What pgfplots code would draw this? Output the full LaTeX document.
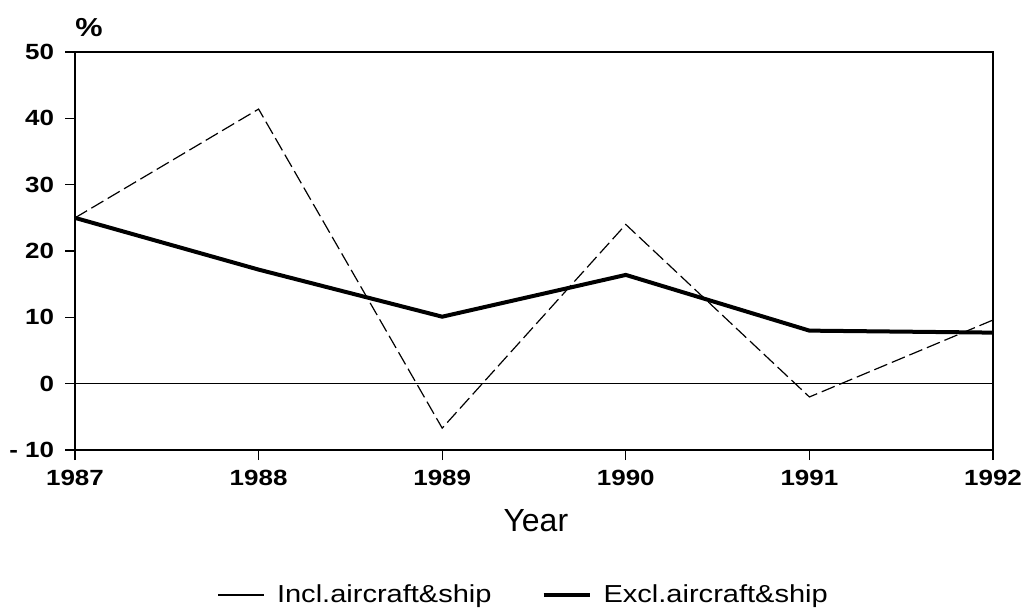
\documentclass[border=0pt]{standalone}
\usepackage{fontspec}
\setmainfont{Liberation Sans}
\newfontfamily\widefont[FakeStretch=1.18]{Liberation Sans}
\usepackage{pgfplots}
\pgfplotsset{compat=1.18}

\begin{document}
\begin{tikzpicture}
  \begin{axis}[
    scale only axis,
    width=459pt, height=199pt,
    xmin=1987, xmax=1992,
    ymin=-10, ymax=50,
    xtick={1987,1988,1989,1990,1991,1992},
    xticklabels={1987,1988,1989,1990,1991,1992},
    ytick={-10,0,10,20,30,40,50},
    yticklabels={- 10,0,10,20,30,40,50},
    tick align=outside,
    xtick pos=bottom, ytick pos=left,
    major tick length=5pt,
    tick style={black, line width=0.6pt},
    axis line style={black, line width=0.6pt},
    ticklabel style={font=\widefont\fontsize{11}{13}\selectfont\bfseries},
    xticklabel style={yshift=-1.3pt},
    yticklabel style={xshift=-2pt},
    legend style={at={(0.49,-0.364)}, anchor=center, draw=none, legend columns=2,
      font=\widefont\fontsize{12.3}{14}\selectfont,
      /tikz/every odd column/.append style={column sep=4pt},
      /tikz/every even column/.append style={column sep=23pt}},
    legend cell align=left,
    legend image code/.code={\draw[#1, solid] (0pt,0pt) -- (23pt,0pt);},
    clip=false,
  ]
    % zero line
    \addplot[black, line width=0.6pt, forget plot] coordinates {(1987,0) (1992,0)};

    % incl. aircraft & ship
    \addplot[black, line width=0.6pt, dash pattern=on 7pt off 2.5pt] coordinates {
      (1987,25) (1988,41.4) (1989,-6.7) (1990,24.0) (1991,-2.0) (1992,9.6)};
    \addlegendentry{Incl.aircraft\&ship}

    % excl. aircraft & ship
    \addplot[black, line width=2pt] coordinates {
      (1987,25) (1988,17.2) (1989,10.1) (1990,16.4) (1991,8.0) (1992,7.7)};
    \addlegendentry{Excl.aircraft\&ship}

    \node[anchor=south west, inner sep=0pt, font=\widefont\fontsize{13}{15}\selectfont\bfseries]
      at (rel axis cs:0,1.038) {\%};
    \node[font=\fontsize{16}{18}\selectfont] at (rel axis cs:0.502,-0.178) {Year};

    % page extent as in the reference
    \path (rel axis cs:-0.0817,-0.4095) rectangle (rel axis cs:1.0414,1.1307);
  \end{axis}
\end{tikzpicture}
\end{document}
